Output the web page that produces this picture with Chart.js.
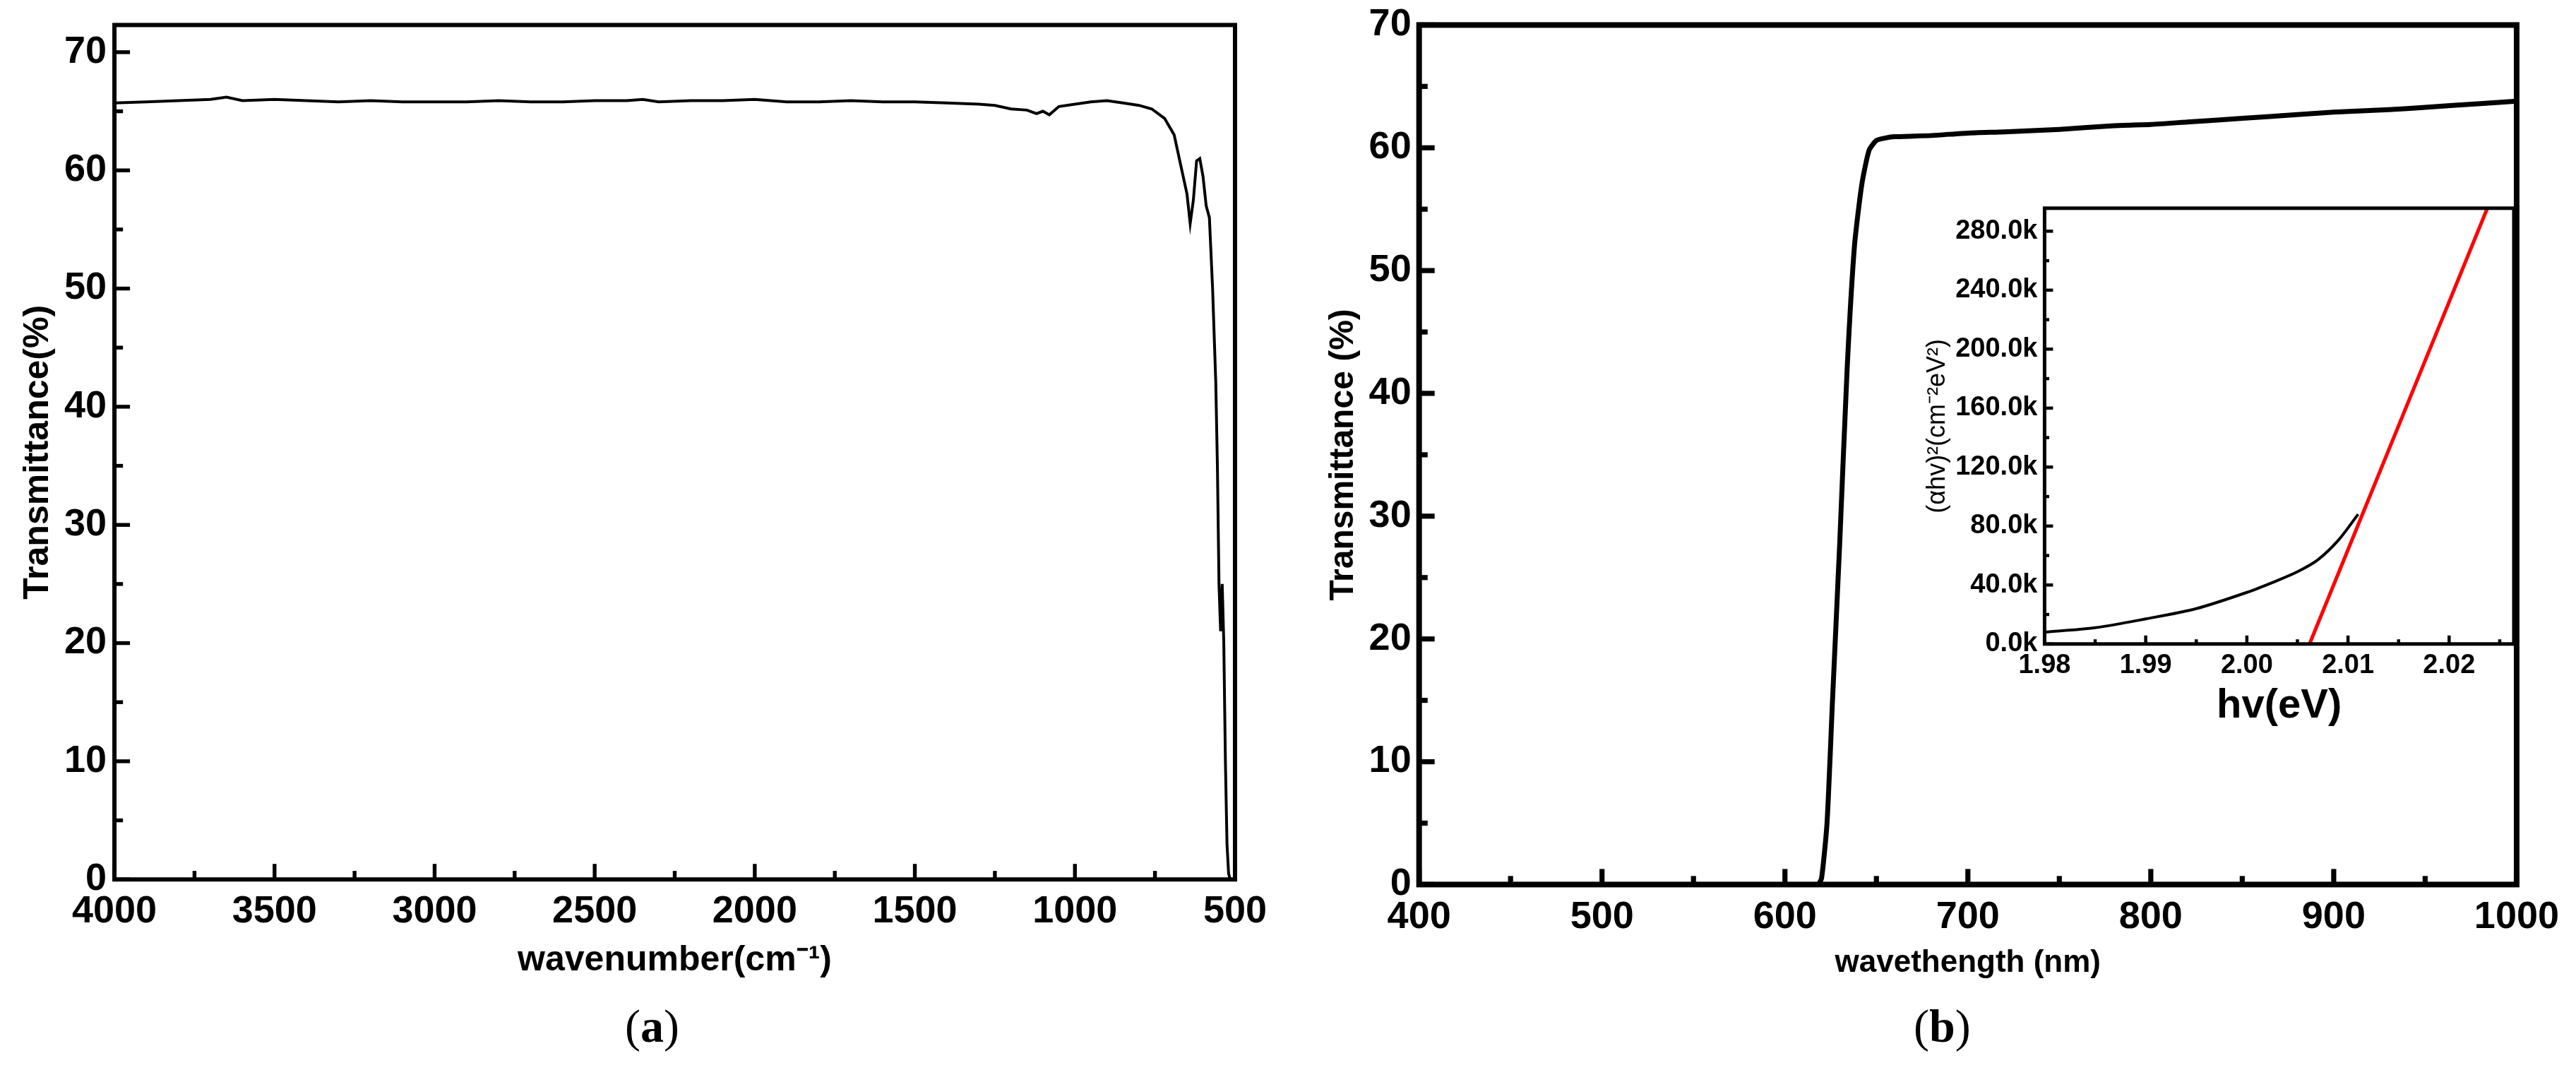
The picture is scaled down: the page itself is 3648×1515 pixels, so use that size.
<!DOCTYPE html>
<html><head><meta charset="utf-8">
<script src="https://cdn.jsdelivr.net/npm/chart.js@4/dist/chart.umd.min.js"></script>
<style>
body{margin:0;background:#fff;width:3648px;height:1515px;position:relative;overflow:hidden;font-family:"Liberation Serif",serif}
.c{position:absolute}
.cap{position:absolute;font-size:66px;font-family:"Liberation Serif",serif}
</style></head><body>
<div class="c" style="left:0;top:0;width:1800px;height:1400px"><canvas id="a"></canvas></div>
<div class="c" style="left:1860px;top:0;width:1770px;height:1400px"><canvas id="b"></canvas></div>
<div class="c" style="left:2720px;top:270px;width:850px;height:765px"><canvas id="c"></canvas></div>
<div class="cap" style="left:885px;top:1415px">(<b>a</b>)</div>
<div class="cap" style="left:2710px;top:1415px">(<b>b</b>)</div>
<script>
// FTIR
const ftirX=[4000,3900,3800,3700,3650,3600,3500,3400,3300,3200,3100,3000,2900,2800,2700,2600,2500,2400,2350,2300,2200,2100,2000,1900,1800,1700,1600,1500,1400,1300,1250,1200,1150,1120,1100,1080,1050,1000,950,900,850,800,760,720,690,670,650,640,630,620,610,600,590,580,570,560,555,550,545,540,535,530,525,520,515];
const ftirY=[65.7,65.8,65.9,66.0,66.2,65.9,66.0,65.9,65.8,65.9,65.8,65.8,65.8,65.9,65.8,65.8,65.9,65.9,66.0,65.8,65.9,65.9,66.0,65.8,65.8,65.9,65.8,65.8,65.7,65.6,65.5,65.2,65.1,64.8,65.0,64.7,65.4,65.6,65.8,65.9,65.7,65.5,65.2,64.4,63.0,60.5,58.0,55.5,57.5,60.8,61.0,59.5,57.0,56.0,50.0,42.0,35.0,25.0,21.0,25.0,20.0,10.0,3.0,0.5,0];
// UV-Vis
const uvX=[400,450,500,550,600,615,618,620,623,626,630,634,638,642,646,650,655,660,680,700,720,750,780,800,820,850,880,900,930,950,980,1000];
const uvY=[0,0,0,0,0,0,0,0.5,5,15,28,42,52,57,59.8,60.6,60.8,60.9,61.0,61.2,61.3,61.5,61.8,61.9,62.1,62.4,62.7,62.9,63.1,63.3,63.6,63.8];
// Tauc inset
const taucX=[1.98,1.985,1.99,1.995,2.0,2.003,2.005,2.007,2.009,2.011];
const taucY=[8000,11000,17000,24000,35000,43000,49000,57000,70000,88000];
const fitX=[2.0062,2.0238];
const fitY=[0,296000];

const F="'Liberation Sans',Arial,sans-serif";
const frame={id:'frame',afterDraw(ch){const {ctx,chartArea:a}=ch;const w=ch.options.plugins.frame.w;ctx.save();ctx.strokeStyle='#000';ctx.lineWidth=w;ctx.strokeRect(a.left,a.top,a.right-a.left,a.bottom-a.top);
 const L=ch.options.plugins.frame.tl;
 for(const id of ['x','y']){const s=ch.scales[id];const st=ch.options.plugins.frame[id];
  for(let v=s.min;v<=s.max+1e-9;v+=st/2){const major=Math.abs(Math.round(v/st)*st-v)<st*1e-3;const len=major?L:L*0.55;const p=s.getPixelForValue(v);ctx.lineWidth=w*0.9;ctx.beginPath();
   if(id==='x'){ctx.moveTo(p,a.bottom);ctx.lineTo(p,a.bottom-len);}else{ctx.moveTo(a.left,p);ctx.lineTo(a.left+len,p);}ctx.stroke();}}
 ctx.restore();}};
function mk(id,ds,xo,yo,fr,pad){return new Chart(document.getElementById(id),{type:'scatter',data:{datasets:ds},
 options:{responsive:true,maintainAspectRatio:false,animation:false,layout:{padding:pad},
 plugins:{legend:{display:false},tooltip:{enabled:false},frame:fr},
 scales:{x:xo,y:yo}},plugins:[frame]});}
const tf=(s)=>({family:F,size:s,weight:'bold'});
const plain=v=>String(v);
mk('a',[{data:ftirX.map((x,i)=>({x,y:ftirY[i]})),showLine:true,borderColor:'#000',borderWidth:4,pointRadius:0,tension:0}],
 {type:'linear',min:500,max:4000,reverse:true,afterBuildTicks:s=>{s.ticks=[4000,3500,3000,2500,2000,1500,1000,500].map(v=>({value:v}))},grid:{display:false},border:{display:false},ticks:{color:'#000',font:tf(54),maxRotation:0,callback:plain,padding:6},title:{display:true,text:'wavenumber(cm⁻¹)',color:'#000',font:tf(50),padding:0}},
 {min:0,max:72.3,afterBuildTicks:s=>{s.ticks=[0,10,20,30,40,50,60,70].map(v=>({value:v}))},grid:{display:false},border:{display:false},ticks:{color:'#000',font:tf(54),callback:plain},title:{display:true,text:'Transmittance(%)',color:'#000',font:tf(50),padding:4}},
 {w:6,tl:22,x:500,y:10},{left:20,top:22,right:45,bottom:10});
mk('b',[{data:uvX.map((x,i)=>({x,y:uvY[i]})),showLine:true,borderColor:'#000',borderWidth:7,pointRadius:0,tension:0.2}],
 {type:'linear',min:400,max:1000,afterBuildTicks:s=>{s.ticks=[400,500,600,700,800,900,1000].map(v=>({value:v}))},grid:{display:false},border:{display:false},ticks:{color:'#000',font:tf(54),maxRotation:0,callback:plain,padding:6},title:{display:true,text:'wavethength (nm)',color:'#000',font:tf(44),padding:0}},
 {min:0,max:70,afterBuildTicks:s=>{s.ticks=[0,10,20,30,40,50,60,70].map(v=>({value:v}))},grid:{display:false},border:{display:false},ticks:{color:'#000',font:tf(54),callback:plain},title:{display:true,text:'Transmittance (%)',color:'#000',font:tf(48),padding:4}},
 {w:8,tl:22,x:100,y:10},{left:10,top:35,right:60,bottom:10});
mk('c',[{data:taucX.map((x,i)=>({x,y:taucY[i]})),showLine:true,borderColor:'#000',borderWidth:4,pointRadius:0,tension:0.3},
 {data:fitX.map((x,i)=>({x,y:fitY[i]})),showLine:true,borderColor:'#ff0000',borderWidth:5,pointRadius:0}],
 {type:'linear',min:1.98,max:2.0264,afterBuildTicks:s=>{s.ticks=[1.98,1.99,2.0,2.01,2.02].map(v=>({value:v}))},grid:{display:false},border:{display:false},ticks:{color:'#000',font:tf(38),maxRotation:0,callback:v=>v.toFixed(2),padding:0},title:{display:true,text:'hv(eV)',color:'#000',font:tf(58),padding:0}},
 {min:0,max:295600,afterBuildTicks:s=>{s.ticks=[0,40000,80000,120000,160000,200000,240000,280000].map(v=>({value:v}))},grid:{display:false},border:{display:false},ticks:{color:'#000',font:tf(38),padding:2,callback:v=>(v/1000).toFixed(1)+'k'},title:{display:true,text:'(αhv)²(cm⁻²eV²)',color:'#000',font:{family:F,size:36},padding:2}},
 {w:5,tl:12,x:0.01,y:40000},{left:0,top:10,right:10,bottom:0});
</script></body></html>
